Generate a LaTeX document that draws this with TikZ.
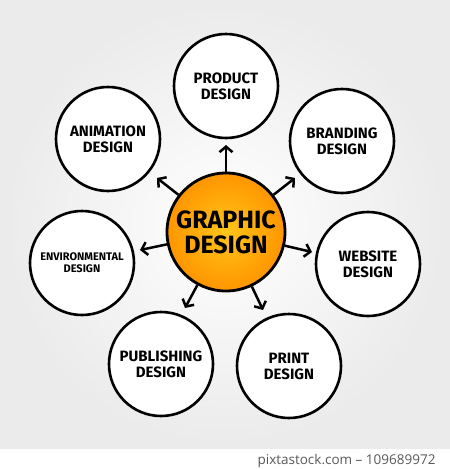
\documentclass[tikz,border=0pt]{standalone}
\usepackage{fontspec}
\setsansfont{Fira Sans}
\newfontfamily\creditfont{Open Sans}
\usepackage{tikz}
\usetikzlibrary{positioning,calc,arrows.meta}
\definecolor{orangein}{HTML}{FFC51A}
\definecolor{orangeout}{HTML}{FF9500}

\begin{document}
\begin{tikzpicture}[x=1pt, y=-1pt,
  topic/.style={draw=black, line width=2.6pt, fill=white, shape=circle, minimum size=104pt, inner sep=0pt, align=center, font=\sffamily\bfseries\fontsize{15}{16}\selectfont},
  hub/.style={draw=black, line width=2.8pt, shape=circle, minimum size=118pt, inner sep=0pt, align=center, inner color=orangein, outer color=orangeout, font=\sffamily\bfseries\fontsize{25}{25}\selectfont},
  spoke/.style={line width=2.5pt, -{Straight Barb[length=5.5pt, width=13pt]}}]

\useasboundingbox (0, 0) rectangle (450, 469);
\shade[inner color=white, outer color=gray!16] (0, 0) rectangle (450, 449);
\fill[white] (0, 449) rectangle (450, 469);

\path (226, 232) node[hub] (graphic) {GRAPHIC\\DESIGN};

\path (226, 86) node[topic] (product) {PRODUCT\\DESIGN};
\path (342, 141) node[topic] (branding) {BRANDING\\DESIGN};
\path (368, 264) node[topic] (website) {WEBSITE\\DESIGN};
\path (289, 366) node[topic] (print) {PRINT\\DESIGN};
\path (161, 364) node[topic] (publishing) {PUBLISHING\\DESIGN};
\path (82, 263) node[topic, font=\sffamily\bfseries\fontsize{11}{12}\selectfont] (environmental) {ENVIRONMENTAL\\DESIGN};
\path (108, 139) node[topic] (animation) {ANIMATION\\DESIGN};

\coordinate (tipproduct) at (226, 145);
\coordinate (tipbranding) at (295, 178);
\coordinate (tipwebsite) at (312, 252);
\coordinate (tipprint) at (263, 310);
\coordinate (tippublishing) at (185, 308);
\coordinate (tipenvironmental) at (140, 250);
\coordinate (tipanimation) at (157, 178);

\foreach \t in {product, branding, website, print, publishing, environmental, animation}
  \draw[spoke] (graphic) -- (tip\t);

\path (439, 461) node[anchor=east, text=black!65, font=\creditfont\fontsize{13.5}{14}\selectfont] (credit) {pixtastock.com – 109689972};
\end{tikzpicture}
\end{document}
